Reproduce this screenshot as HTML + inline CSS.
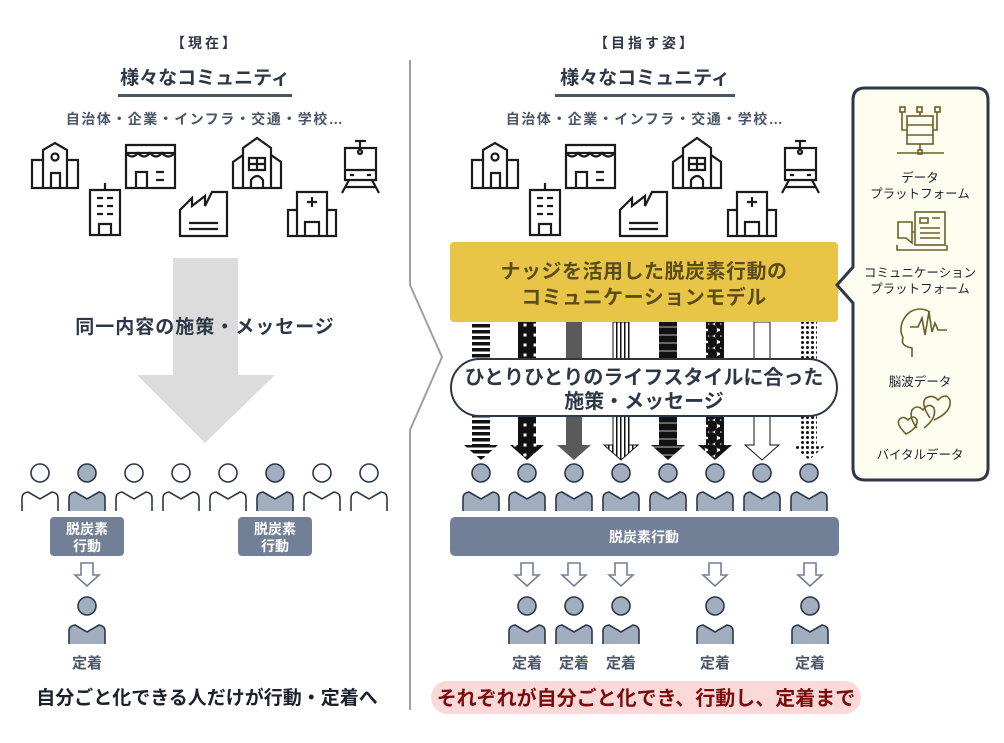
<!DOCTYPE html>
<html><head><meta charset="utf-8"><style>
html,body{margin:0;padding:0;background:#fff;overflow:hidden;}
svg{display:block;font-family:"Liberation Sans","Noto Sans CJK JP",sans-serif;}
</style></head><body>
<svg width="1004" height="743" viewBox="0 0 1004 743" xmlns="http://www.w3.org/2000/svg">
<defs>
 <g id="pf">
  <circle cx="0" cy="0" r="9" fill="#a0aec0" stroke="#2d3748" stroke-width="1.6"/>
  <path d="M-18 38 V25 Q-18 20 -12 19 L0 26 L12 19 Q18 20 18 25 V38 Z" fill="#a0aec0"/>
  <path d="M-18 38 V25 Q-18 20 -12 19 L0 26 L12 19 Q18 20 18 25 V38" fill="none" stroke="#2d3748" stroke-width="1.6"/>
 </g>
 <g id="pe">
  <circle cx="0" cy="0" r="9" fill="#fff" stroke="#2d3748" stroke-width="1.6"/>
  <path d="M-18 38 V25 Q-18 20 -12 19 L0 26 L12 19 Q18 20 18 25 V38" fill="none" stroke="#2d3748" stroke-width="1.6"/>
 </g>
 <g id="sa">
  <path d="M-6 0 H6 V12 H12 L0 23 L-12 12 H-6 Z" fill="#fff" stroke="#718096" stroke-width="1.6"/>
 </g>
 <g id="icons">
  <g fill="none" stroke="#1a1a1a" stroke-width="2.2">
   <path d="M32 188 V160 H43 V150 L55 143 L67 150 V160 H78 V188 Z M43 160 V188 M67 160 V188"/><circle cx="55" cy="157" r="3.5"/><path d="M51 188 V173 H60 V188"/>
   <path d="M126 145 H175 V188 H126 Z M126 153 H175"/><path d="M126 153 Q132 160 138 153 Q144 160 150 153 Q156 160 162 153 Q168 160 175 153"/><path d="M136 188 V172 H147 V188 M156 172 H164 M156 180 H164"/>
   <path d="M90 235 V190 H120 V235 Z M105 190 V183 M97 198 H103 M107 198 H113 M97 206 H103 M107 206 H113 M97 214 H103 M107 214 H113 M99 235 V224 H111 V235"/>
   <path d="M180 236 V210 L192 198 V206 L205 196 V206 L212 192 H227 V236 Z M189 223 H218 M189 229 H218"/>
   <path d="M233 188 V162 L243 155 V148 L257 138 L271 148 V155 L281 162 V188 Z M243 155 V188 M271 155 V188 M249 158 H265 V170 H249 Z M249 164 H265 M257 158 V170 M251 188 V180 Q257 172 263 180 V188"/>
   <path d="M288 236 V210 H297 V192 H327 V210 H336 V236 Z M297 210 V236 M327 210 V236 M312 197 V207 M307 202 H317 M305 236 V222 H319 V236"/>
   <path d="M345 148 H376 V180 H345 Z M345 170 H376 M350 175 H354 M367 175 H371 M355 141 L366 141 M360 141 V148 M349 180 L342 193 M372 180 L379 193 M345 187 H376"/><circle cx="360" cy="152" r="2"/>
  </g>
 </g>
 <pattern id="hs" width="10" height="6" patternUnits="userSpaceOnUse"><rect width="10" height="3.5" fill="#111"/></pattern>
 <pattern id="dotw" width="10" height="10" patternUnits="userSpaceOnUse"><rect width="10" height="10" fill="#111"/><rect x="3.5" y="3.5" width="3" height="3" fill="#fff"/></pattern>
 <pattern id="vs" width="4" height="10" patternUnits="userSpaceOnUse"><rect width="4" height="10" fill="#fff"/><rect width="1.5" height="10" fill="#111"/></pattern>
 <pattern id="hs2" width="10" height="8" patternUnits="userSpaceOnUse"><rect width="10" height="8" fill="#111"/><rect y="6.5" width="10" height="1" fill="#bbb"/></pattern>
 <pattern id="circ" width="12" height="12" patternUnits="userSpaceOnUse"><rect width="12" height="12" fill="#fff"/><circle cx="3" cy="6" r="6" fill="#111"/><circle cx="12" cy="0" r="5" fill="#111"/><circle cx="12" cy="12" r="5" fill="#111"/></pattern>
 <pattern id="dots" width="5" height="5" patternUnits="userSpaceOnUse"><rect width="5" height="5" fill="#fff"/><circle cx="2.5" cy="2.5" r="1.5" fill="#111"/></pattern>
</defs>

<!-- LEFT -->
<text x="205" y="48" font-size="14" font-weight="bold" letter-spacing="3" text-anchor="middle" fill="#2d3748">【現在】</text>
<text x="205" y="84" font-size="19" font-weight="bold" text-anchor="middle" fill="#2d3748">様々なコミュニティ</text>
<rect x="118" y="94" width="174" height="3" fill="#4a5568"/>
<text x="205" y="124" font-size="14" font-weight="bold" letter-spacing="1.5" text-anchor="middle" fill="#4a5568">自治体・企業・インフラ・交通・学校…</text>
<use href="#icons"/>
<path d="M173 258 H238 V375 H275 L205 443 L137 375 H173 Z" fill="#dcdcdc"/>
<text x="205" y="333" font-size="19" font-weight="bold" letter-spacing="1" text-anchor="middle" fill="#2d3748">同一内容の施策・メッセージ</text>

<use href="#pe" x="40" y="473"/>
<use href="#pf" x="87" y="473"/>
<use href="#pe" x="134" y="473"/>
<use href="#pe" x="181" y="473"/>
<use href="#pe" x="228" y="473"/>
<use href="#pf" x="275" y="473"/>
<use href="#pe" x="322" y="473"/>
<use href="#pe" x="369" y="473"/>
<rect x="50" y="517" width="74" height="39" rx="4" fill="#718096"/>
<text x="87" y="534" font-size="14" font-weight="bold" fill="#fff" text-anchor="middle">脱炭素</text>
<text x="87" y="551" font-size="14" font-weight="bold" fill="#fff" text-anchor="middle">行動</text>
<rect x="238" y="517" width="74" height="39" rx="4" fill="#718096"/>
<text x="275" y="534" font-size="14" font-weight="bold" fill="#fff" text-anchor="middle">脱炭素</text>
<text x="275" y="551" font-size="14" font-weight="bold" fill="#fff" text-anchor="middle">行動</text>
<use href="#sa" x="87" y="563"/>
<use href="#pf" x="87" y="606"/>
<text x="87" y="668" font-size="15" font-weight="bold" fill="#4a5568" text-anchor="middle">定着</text>
<text x="207" y="704" font-size="19" font-weight="bold" text-anchor="middle" fill="#1a202c">自分ごと化できる人だけが行動・定着へ</text>

<!-- divider -->
<path d="M410 60 V285 L442 357 L410 430 V710" fill="none" stroke="#a0a0a0" stroke-width="2"/>

<!-- RIGHT -->
<text x="645" y="48" font-size="14" font-weight="bold" letter-spacing="3" text-anchor="middle" fill="#2d3748">【目指す姿】</text>
<text x="645" y="84" font-size="19" font-weight="bold" text-anchor="middle" fill="#2d3748">様々なコミュニティ</text>
<rect x="555" y="94" width="180" height="3" fill="#4a5568"/>
<text x="645" y="124" font-size="14" font-weight="bold" letter-spacing="1.5" text-anchor="middle" fill="#4a5568">自治体・企業・インフラ・交通・学校…</text>
<use href="#icons" x="440"/>

<g stroke="#111" stroke-width="1">
 <path d="M472 322 H490 V445 H498 L481 460 L464 445 H472 Z" fill="url(#hs)" stroke="none"/>
 <path d="M518 322 H536 V445 H544 L527 460 L510 445 H518 Z" fill="url(#dotw)" stroke="none"/>
 <path d="M566 322 H582 V445 H591 L574 460 L557 445 H566 Z" fill="#5a5a5a" stroke="none"/>
 <path d="M613 322 H629 V445 H638 L621 460 L604 445 H613 Z" fill="url(#vs)"/>
 <path d="M659 322 H677 V445 H685 L668 460 L651 445 H659 Z" fill="url(#hs2)" stroke="none"/>
 <path d="M706 322 H724 V445 H732 L715 460 L698 445 H706 Z" fill="url(#circ)" stroke="none"/>
 <path d="M754 322 H770 V445 H779 L762 460 L745 445 H754 Z" fill="#fff"/>
 <path d="M801 322 H817 V445 H826 L809 460 L792 445 H801 Z" fill="url(#dots)" stroke="none"/>
</g>
<rect x="450" y="242" width="388" height="80" rx="4" fill="#e9c547"/>
<text x="644" y="278" font-size="20" font-weight="bold" letter-spacing="0.5" text-anchor="middle" fill="#5a4d1c">ナッジを活用した脱炭素行動の</text>
<text x="644" y="304" font-size="20" font-weight="bold" letter-spacing="0.5" text-anchor="middle" fill="#5a4d1c">コミュニケーションモデル</text>
<rect x="451" y="359" width="386" height="57" rx="28.5" fill="#fff" stroke="#2d3748" stroke-width="2"/>
<text x="644" y="384" font-size="20" font-weight="bold" text-anchor="middle" fill="#2d3748">ひとりひとりのライフスタイルに合った</text>
<text x="644" y="408" font-size="20" font-weight="bold" text-anchor="middle" fill="#2d3748">施策・メッセージ</text>

<use href="#pf" x="481" y="473"/>
<use href="#pf" x="527" y="473"/>
<use href="#pf" x="574" y="473"/>
<use href="#pf" x="621" y="473"/>
<use href="#pf" x="668" y="473"/>
<use href="#pf" x="715" y="473"/>
<use href="#pf" x="762" y="473"/>
<use href="#pf" x="809" y="473"/>
<rect x="450" y="517" width="389" height="39" rx="5" fill="#718096"/>
<text x="644" y="542" font-size="14" font-weight="bold" fill="#fff" text-anchor="middle">脱炭素行動</text>
<use href="#sa" x="527" y="563"/><use href="#sa" x="574" y="563"/><use href="#sa" x="621" y="563"/><use href="#sa" x="715" y="563"/><use href="#sa" x="810" y="563"/>
<use href="#pf" x="527" y="606"/><use href="#pf" x="574" y="606"/><use href="#pf" x="621" y="606"/><use href="#pf" x="715" y="606"/><use href="#pf" x="810" y="606"/>
<g font-size="15" font-weight="bold" fill="#4a5568" text-anchor="middle">
<text x="527" y="668">定着</text><text x="574" y="668">定着</text><text x="621" y="668">定着</text><text x="715" y="668">定着</text><text x="810" y="668">定着</text>
</g>
<rect x="431" y="681" width="430" height="33" rx="16.5" fill="#fcd9d9"/>
<text x="646" y="705" font-size="20" font-weight="bold" text-anchor="middle" fill="#7a0c0c">それぞれが自分ごと化でき、行動し、定着まで</text>

<!-- side panel -->
<path d="M865 88 H976 Q988 88 988 100 V468 Q988 480 976 480 H865 Q853 480 853 468 V303 L837 285 L853 267 V100 Q853 88 865 88 Z" fill="#fdfdf0" stroke="#2d3748" stroke-width="3"/>
<g fill="none" stroke="#6b5e2a" stroke-width="1.6">
 <rect x="900" y="107" width="5" height="5"/><rect x="917" y="107" width="5" height="5"/><rect x="935" y="107" width="5" height="5"/>
 <path d="M902 112 V130 H907 M920 112 V116 M937 112 V130 H933"/>
 <rect x="907" y="116" width="26" height="28"/><path d="M907 125 H933 M907 135 H933 M920 144 V150 M897 153 H944"/><rect x="918" y="150" width="4" height="4"/>
 <rect x="915" y="212" width="30" height="33"/><path d="M920 218 H928 V223 H920 Z M932 218 H940 M920 228 H940 M920 233 H940 M920 238 H940"/>
 <path d="M898 222 H912 V243 L906 238 H898 Z M912 232 H915 M897 245 V250 H947 V245"/>
 <path d="M912 357 V348 Q900 346 903 338 L901 332 Q900 320 910 312 Q920 306 930 312 M910 327 H918 L922 318 L925 335 L929 312 L932 332 L935 323 L938 330 H947"/>
 <path d="M906 434 Q896 424 899 420 Q903 415 908 420 Q914 414 917 420 Q918 428 906 434 Z M917 428 Q909 418 912 410 Q917 404 923 410 Q929 402 934 408 Q937 418 924 428 M930 418 Q920 403 926 398 Q933 394 938 400 Q946 392 950 400 Q952 412 934 420"/>
</g>
<g font-size="12.5" fill="#1a202c" text-anchor="middle">
<text x="920" y="182">データ</text><text x="920" y="198">プラットフォーム</text>
<text x="920" y="277">コミュニケーション</text><text x="920" y="293">プラットフォーム</text>
<text x="920" y="386">脳波データ</text>
<text x="920" y="459">バイタルデータ</text>
</g>
</svg>
</body></html>
